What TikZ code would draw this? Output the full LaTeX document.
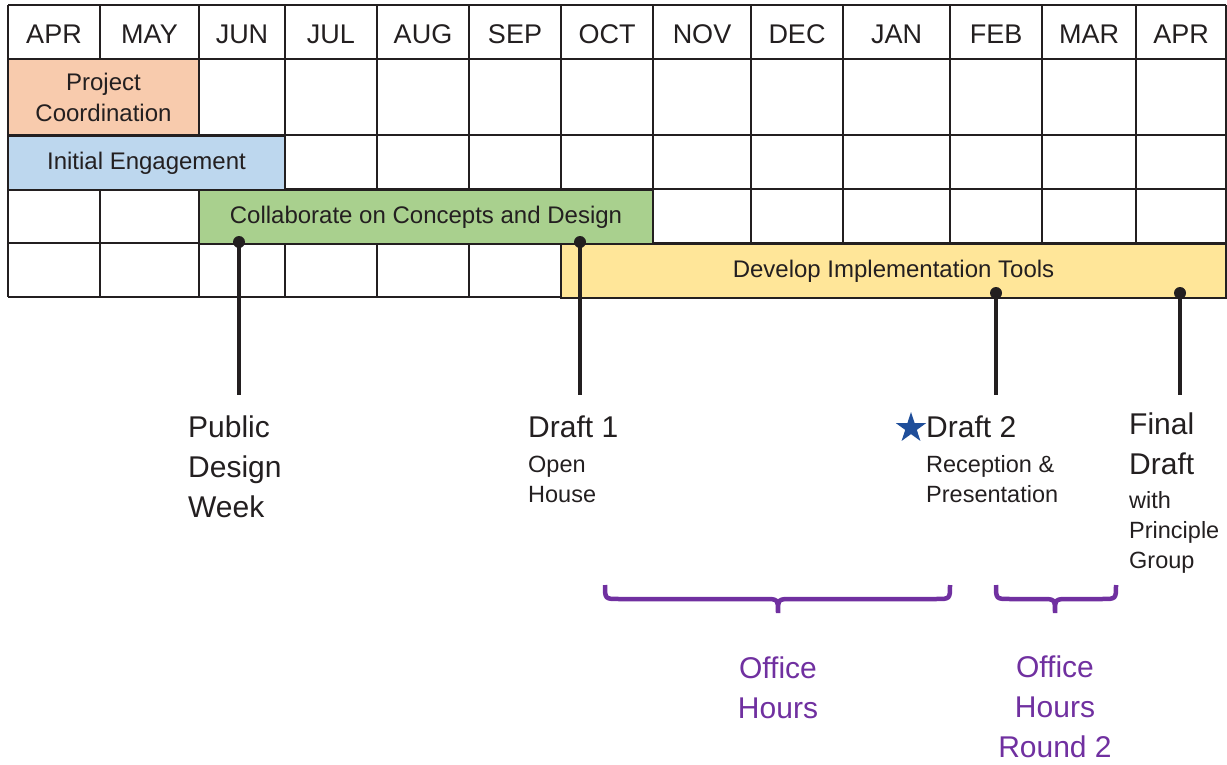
\documentclass[tikz,border=0pt]{standalone}
\usepackage{fontspec}
\setmainfont{Liberation Sans}
\usetikzlibrary{shapes.geometric}

\definecolor{ink}{HTML}{231F20}
\definecolor{peach}{HTML}{F8CBAD}
\definecolor{skyblue}{HTML}{BDD7EE}
\definecolor{leaf}{HTML}{A9D08E}
\definecolor{butter}{HTML}{FFE699}
\definecolor{plum}{HTML}{7030A0}
\definecolor{starblue}{HTML}{1F4E9A}

\tikzset{
  gridline/.style={draw=ink, line width=2pt},
  month/.style={text=ink, font=\fontsize{27}{30}\selectfont, inner sep=0pt},
  bar/.style={draw=ink, line width=2pt, text=ink, inner sep=0pt, align=center,
    font=\fontsize{24}{31}\selectfont},
  dot/.style={circle, fill=ink, inner sep=0pt, minimum size=12pt},
  stem/.style={draw=ink, line width=3.5pt},
  % multi-line labels are placed by the baseline of their last line
  bigtext/.style={text=ink, anchor=base west, align=left, inner sep=0pt,
    font=\fontsize{30}{40}\selectfont},
  smalltext/.style={text=ink, anchor=base west, align=left, inner sep=0pt,
    font=\fontsize{23.5}{30}\selectfont},
  brace/.style={draw=plum, line width=4.5pt},
  officetext/.style={text=plum, anchor=base, align=center, inner sep=0pt,
    font=\fontsize{30}{40}\selectfont},
}

\begin{document}
\begin{tikzpicture}[x=1pt, y=-1pt]
\useasboundingbox (0,0) rectangle (1227,765);

% calendar grid
\foreach \y in {5,59,135,189,243,297}
  \draw[gridline] (8,\y) -- (1226,\y);
\foreach \x in {8,100,199,285,377,469,561,653,751,843,950,1042,1136,1226}
  \draw[gridline] (\x,5) -- (\x,297);

% month headings
\foreach \a/\b/\m [count=\i] in {8/100/APR, 100/199/MAY, 199/285/JUN,
    285/377/JUL, 377/469/AUG, 469/561/SEP, 561/653/OCT, 653/751/NOV,
    751/843/DEC, 843/950/JAN, 950/1042/FEB, 1042/1136/MAR, 1136/1226/APR}
  \node[month] (mon\i) at ({(\a+\b)/2},34) {\m};

% activity bars
\node[bar, fill=peach, minimum width=191pt, minimum height=76pt]
  (coord) at (103.5,97) {Project\\Coordination};
\node[bar, fill=skyblue, minimum width=277pt, minimum height=54pt]
  (engage) at (146.5,163) {Initial Engagement};
\node[bar, fill=leaf, minimum width=454pt, minimum height=54pt]
  (collab) at (426,217) {Collaborate on Concepts and Design};
\node[bar, fill=butter, minimum width=665pt, minimum height=54pt]
  (tools) at (893.5,271) {Develop Implementation Tools};

% milestone markers
\node[dot] (p1) at (239,242) {};
\node[dot] (p2) at (580,242) {};
\node[dot] (p3) at (996,293) {};
\node[dot] (p4) at (1180,293) {};
\coordinate (q1) at (239,395);
\coordinate (q2) at (580,395);
\coordinate (q3) at (996,395);
\coordinate (q4) at (1180,395);
\draw[stem] (p1.center) -- (q1);
\draw[stem] (p2.center) -- (q2);
\draw[stem] (p3.center) -- (q3);
\draw[stem] (p4.center) -- (q4);

% milestone labels
\node[bigtext] (week) at (188,517) {Public\\Design\\Week};
\node[bigtext] (draft1) at (528,437) {Draft 1};
\node[smalltext] (house) at (528,502) {Open\\House};
\node[star, star points=5, star point ratio=2.618, minimum size=32pt,
  inner sep=0pt, fill=starblue] (mark) at (911,428) {};
\node[bigtext] (draft2) at (926,437) {Draft 2};
\node[smalltext] (recept) at (926,502) {Reception \&\\Presentation};
\node[bigtext] (final) at (1129,474) {Final\\Draft};
\node[smalltext] (group) at (1129,568) {with\\Principle\\Group};

% office hour spans
\draw[brace] (605,585) .. controls (605,599) .. (619,599) -- (764,599)
  .. controls (778,599) .. (778,613) .. controls (778,599) .. (792,599)
  -- (936,599) .. controls (950,599) .. (950,585);
\draw[brace] (996,585) .. controls (996,599) .. (1010,599) -- (1041,599)
  .. controls (1055,599) .. (1055,613) .. controls (1055,599) .. (1069,599)
  -- (1102,599) .. controls (1116,599) .. (1116,585);
\node[officetext] (office1) at (778,718) {Office\\Hours};
\node[officetext] (office2) at (1055,757) {Office\\Hours\\Round 2};
\end{tikzpicture}
\end{document}
